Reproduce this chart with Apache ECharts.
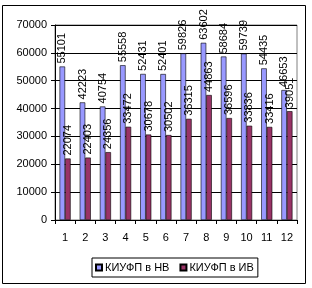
<!DOCTYPE html>
<html><head><meta charset="utf-8">
<script src="https://cdn.jsdelivr.net/npm/echarts@6/dist/echarts.min.js"></script>
<style>html,body{margin:0;padding:0;background:#fff}#c{width:312px;height:288px}</style>
</head><body><div id="c"></div>
<script>
var categories = ['1','2','3','4','5','6','7','8','9','10','11','12'];
var seriesNames = ['КИУФП в НВ', 'КИУФП в ИВ'];
var valuesNV = [55101, 42223, 40754, 55558, 52431, 52401, 59826, 63602, 58684, 59739, 54435, 46653];
var valuesIV = [22074, 22403, 24356, 33472, 30678, 30502, 36315, 44863, 36596, 33836, 33416, 39051];
var yTicks = [0, 10000, 20000, 30000, 40000, 50000, 60000, 70000];

var chart = echarts.init(document.getElementById('c'), null, {renderer: 'canvas'});
var font = 'Liberation Sans, Arial, sans-serif';
var lbl = {show: true, position: 'top', rotate: 90, align: 'left', verticalAlign: 'middle', distance: 3,
  fontFamily: font, fontSize: 11, color: '#000'};
chart.setOption({
  animation: false,
  textStyle: {fontFamily: font},
  graphic: [{type: 'rect', shape: {x: 2.5, y: 5.5, width: 303, height: 278}, style: {fill: 'none', stroke: '#000', lineWidth: 1}, z: -1}],
  grid: {left: 55, top: 25, right: 15, bottom: 68, show: true, borderColor: '#808080', borderWidth: 1, backgroundColor: '#fff'},
  legend: {
    top: 258, left: 92, data: seriesNames, itemWidth: 6, itemHeight: 6, itemGap: 10,
    icon: 'rect', borderColor: '#000', borderWidth: 1, padding: [4, 4, 4, 3],
    textStyle: {fontFamily: font, fontSize: 11, color: '#000', padding: [0, 0, 0, -2]}
  },
  xAxis: {
    type: 'category', data: categories, boundaryGap: true,
    axisLine: {lineStyle: {color: '#000'}},
    axisTick: {show: true, length: 4, lineStyle: {color: '#000'}},
    axisLabel: {fontFamily: font, fontSize: 11, color: '#000', margin: 12}
  },
  yAxis: {
    type: 'value', min: yTicks[0], max: yTicks[yTicks.length - 1], interval: 10000,
    axisLine: {show: true, lineStyle: {color: '#000'}},
    axisTick: {show: true, length: 4, lineStyle: {color: '#000'}},
    splitLine: {lineStyle: {color: '#000'}},
    axisLabel: {fontFamily: font, fontSize: 11, color: '#000', margin: 8, formatter: function (v) { return String(v); }}
  },
  series: [
    {name: seriesNames[0], type: 'bar', data: valuesNV, barGap: '0%', barCategoryGap: '45%',
     itemStyle: {color: '#9999FF', borderColor: '#000', borderWidth: 0.6}, label: lbl},
    {name: seriesNames[1], type: 'bar', data: valuesIV,
     itemStyle: {color: '#993366', borderColor: '#000', borderWidth: 0.6}, label: lbl}
  ]
});
</script></body></html>
